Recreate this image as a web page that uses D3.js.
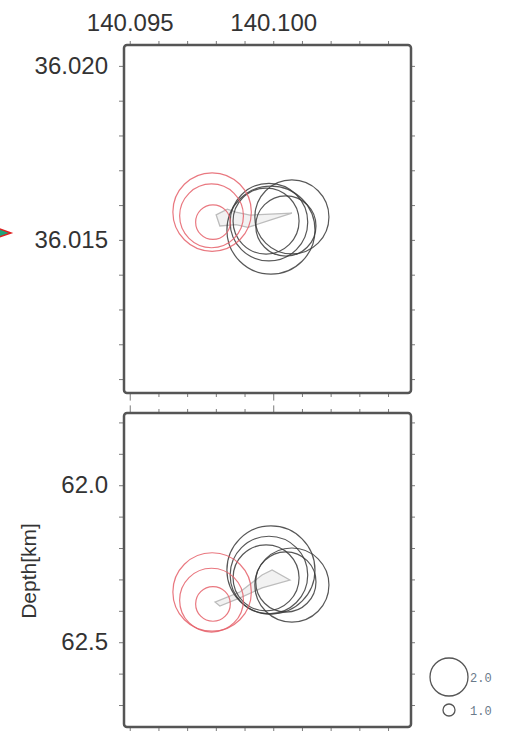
<!DOCTYPE html>
<html><head><meta charset="utf-8">
<script src="https://cdn.jsdelivr.net/npm/d3@7"></script>
<style>html,body{margin:0;padding:0;background:#fff;}svg{display:block;}</style>
</head><body>
<script>
// ---- data ----
const lonDomain = [140.0948, 140.1048];
const latDomain = [36.0106, 36.0206];
const depthDomain = [61.77, 62.77];

const lonTicks = [140.095,140.096,140.097,140.098,140.099,140.100,140.101,140.102,140.103,140.104];
const lonTickLabels = ["140.095","140.100"];
const latTicks = [36.011,36.012,36.013,36.014,36.015,36.016,36.017,36.018,36.019,36.020];
const latTickLabels = ["36.020","36.015"];
const depthTicks = [61.8,61.9,62.0,62.1,62.2,62.3,62.4,62.5,62.6,62.7];
const depthTickLabels = ["62.0","62.5"];

const eventGroup = ["black","black","black","black","black","red","red","red"];
const eventLon   = [140.09992,140.10065,140.09985,140.09975,140.10044,140.09787,140.09785,140.09790];
const eventLat   = [36.01528,36.01566,36.01551,36.01554,36.01540,36.01580,36.01569,36.01551];
const eventDepth = [62.270,62.318,62.286,62.295,62.308,62.340,62.366,62.378];
const eventMag   = [2.73,2.58,2.62,2.48,2.40,2.63,2.45,1.92];

const grayMapLon = [140.09801,140.09840,140.09870,140.09919,140.10065,140.09989,140.09912,140.09870,140.09814];
const grayMapLat = [36.01572,36.01588,36.01580,36.01571,36.01577,36.01557,36.01536,36.01544,36.01540];
const graySecLon = [140.09797,140.09884,140.09961,140.09996,140.10058,140.09961,140.09884,140.09814];
const graySecDepth = [62.372,62.340,62.286,62.270,62.302,62.327,62.359,62.385];

const markerLat = 36.0152;
const legendMags = [2.0, 1.0];
const legendLabels = ["2.0","1.0"];
const depthLabel = "Depth[km]";

// ---- drawing ----
const W = 506, H = 732;
const L = 124, R = 411;
const topT = 45, topB = 393, botT = 413, botB = 727;
const svg = d3.select("body").append("svg").attr("width", W).attr("height", H);
const font = "'Liberation Sans', Arial, sans-serif";

const x = d3.scaleLinear().domain(lonDomain).range([L, R]);
const yLat = d3.scaleLinear().domain(latDomain).range([topB, topT]);
const yDep = d3.scaleLinear().domain(depthDomain).range([botT, botB]);
const rLin = d3.scaleLinear().domain([0, 10]).range([0, 19]);
const rad = m => rLin(Math.pow(10, m / 2));

const fmtLon = d => { const s = d3.format(".3f")(d); return lonTickLabels.includes(s) ? s : ""; };
const fmtLat = d => { const s = d3.format(".3f")(d); return latTickLabels.includes(s) ? s : ""; };
const fmtDep = d => { const s = d3.format(".1f")(d); return depthTickLabels.includes(s) ? s : ""; };

function styleAxis(g) {
  g.select(".domain").remove();
  g.selectAll(".tick line").attr("stroke", "#7a7a7a").attr("stroke-width", 1);
  g.selectAll(".tick text").attr("fill", "#333").style("font-family", font).style("font-size", "24px");
}
function lengthenMajor(g, fmt) {
  g.selectAll(".tick").each(function(d) {
    if (fmt(d) !== "") {
      const ln = d3.select(this).select("line");
      ln.attr("y2", +ln.attr("y2") * 1.9);
    }
  });
}

let g;
g = svg.append("g").attr("transform", `translate(0,${topT})`)
  .call(d3.axisTop(x).tickValues(lonTicks).tickSize(4).tickPadding(10).tickFormat(fmtLon));
styleAxis(g);
g = svg.append("g").attr("transform", `translate(0,${topB})`)
  .call(d3.axisBottom(x).tickValues(lonTicks).tickSize(4).tickFormat(() => ""));
styleAxis(g); lengthenMajor(g, fmtLon);
g = svg.append("g").attr("transform", `translate(${L},0)`)
  .call(d3.axisLeft(yLat).tickValues(latTicks).tickSize(5).tickPadding(11).tickFormat(fmtLat));
styleAxis(g);
g = svg.append("g").attr("transform", `translate(${R},0)`)
  .call(d3.axisRight(yLat).tickValues(latTicks).tickSize(4).tickFormat(() => ""));
styleAxis(g);

g = svg.append("g").attr("transform", `translate(0,${botT})`)
  .call(d3.axisTop(x).tickValues(lonTicks).tickSize(4).tickFormat(() => ""));
styleAxis(g); lengthenMajor(g, fmtLon);
g = svg.append("g").attr("transform", `translate(0,${botB})`)
  .call(d3.axisBottom(x).tickValues(lonTicks).tickSize(4).tickFormat(() => ""));
styleAxis(g);
g = svg.append("g").attr("transform", `translate(${L},0)`)
  .call(d3.axisLeft(yDep).tickValues(depthTicks).tickSize(5).tickPadding(11).tickFormat(fmtDep));
styleAxis(g);
g = svg.append("g").attr("transform", `translate(${R},0)`)
  .call(d3.axisRight(yDep).tickValues(depthTicks).tickSize(4).tickFormat(() => ""));
styleAxis(g);

const defs = svg.append("defs");
defs.append("clipPath").attr("id", "cTop").append("rect").attr("x", L).attr("y", topT).attr("width", R - L).attr("height", topB - topT);
defs.append("clipPath").attr("id", "cBot").append("rect").attr("x", L).attr("y", botT).attr("width", R - L).attr("height", botB - botT);

const colorOf = c => c === "red" ? "#e5606a" : "#3a3a3a";
const idx = d3.range(eventLon.length);
const order = idx.slice().sort((a, b) => (eventGroup[a] === "red") - (eventGroup[b] === "red"));

const gm = svg.append("g").attr("clip-path", "url(#cTop)");
gm.append("path")
  .attr("d", d3.line().x(i => x(grayMapLon[i])).y(i => yLat(grayMapLat[i])).curve(d3.curveLinearClosed)(d3.range(grayMapLon.length)))
  .attr("fill", "#ededed").attr("fill-opacity", 0.7).attr("stroke", "#bdbdbd").attr("stroke-width", 1.3);
gm.selectAll("circle.ev").data(order).join("circle")
  .attr("cx", i => x(eventLon[i])).attr("cy", i => yLat(eventLat[i])).attr("r", i => rad(eventMag[i]))
  .attr("fill", "none").attr("stroke", i => colorOf(eventGroup[i])).attr("stroke-width", 1.2).attr("stroke-opacity", 0.85);

const gs = svg.append("g").attr("clip-path", "url(#cBot)");
gs.append("path")
  .attr("d", d3.line().x(i => x(graySecLon[i])).y(i => yDep(graySecDepth[i])).curve(d3.curveLinearClosed)(d3.range(graySecLon.length)))
  .attr("fill", "#ededed").attr("fill-opacity", 0.7).attr("stroke", "#bdbdbd").attr("stroke-width", 1.3);
gs.selectAll("circle.ev").data(order).join("circle")
  .attr("cx", i => x(eventLon[i])).attr("cy", i => yDep(eventDepth[i])).attr("r", i => rad(eventMag[i]))
  .attr("fill", "none").attr("stroke", i => colorOf(eventGroup[i])).attr("stroke-width", 1.2).attr("stroke-opacity", 0.85);

[[topT, topB], [botT, botB]].forEach(([t, b]) => {
  svg.append("rect").attr("x", L).attr("y", t).attr("width", R - L).attr("height", b - t)
    .attr("rx", 3).attr("fill", "none").attr("stroke", "#555").attr("stroke-width", 2.5);
});

svg.append("text").attr("transform", `translate(36,571) rotate(-90)`)
  .attr("text-anchor", "middle").attr("fill", "#333")
  .style("font-family", font).style("font-size", "21px").text(depthLabel);

const my = yLat(markerLat);
svg.append("path").attr("d", `M-6,${my - 6} L11,${my} L-6,${my + 6} Z`)
  .attr("fill", "#1fa37a").attr("stroke", "#e02020").attr("stroke-width", 1.5);

const legY = [677, 710];
legendMags.forEach((m, i) => {
  svg.append("circle").attr("cx", 449).attr("cy", legY[i]).attr("r", rad(m))
    .attr("fill", "none").attr("stroke", "#555").attr("stroke-width", 1.3);
  svg.append("text").attr("x", 470).attr("y", legY[i] + 5).attr("fill", "#6a7a8a")
    .style("font-family", "'Liberation Mono', 'DejaVu Sans Mono', monospace").style("font-size", "12px")
    .text(legendLabels[i]);
});
</script>
</body></html>
